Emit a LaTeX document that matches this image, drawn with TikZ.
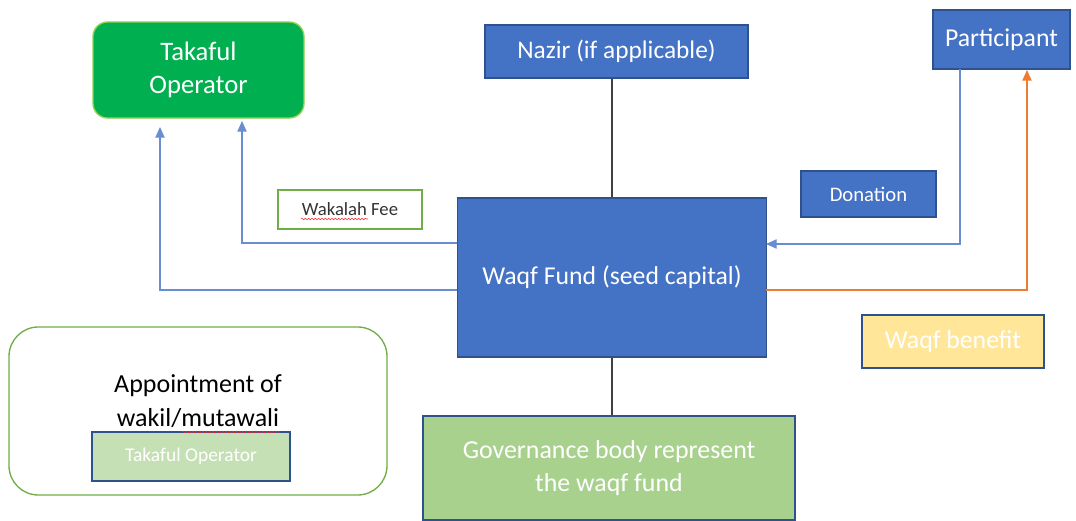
\documentclass[tikz,border=0pt]{standalone}
\usepackage{fontspec}
\setmainfont{Carlito}
\usetikzlibrary{arrows.meta,decorations.pathmorphing}
\definecolor{msblue}{HTML}{4472C4}
\definecolor{msdark}{HTML}{2F528F}
\definecolor{msgreen}{HTML}{00B050}
\definecolor{mslime}{HTML}{92D050}
\definecolor{msolive}{HTML}{70AD47}
\definecolor{mslight}{HTML}{A9D18E}
\definecolor{mspale}{HTML}{C5E0B4}
\definecolor{msyellow}{HTML}{FFE699}
\definecolor{msorange}{HTML}{ED7D31}
\tikzset{
  bluebox/.style={draw=msdark,fill=msblue,line width=1pt,text=white,align=center,inner sep=0pt},
  greenbox/.style={draw=msolive,line width=1pt,align=center,inner sep=0pt},
  flow/.style={msblue!80,line width=0.8pt,-{Triangle[width=7pt,length=8pt]}},
  link/.style={black!75,line width=0.9pt},
  squiggle/.style={red!85,line width=0.4pt,decorate,decoration={snake,amplitude=0.6pt,segment length=2.5pt}}
}
\begin{document}
\begin{tikzpicture}[x=0.75pt,y=-0.75pt]
 \useasboundingbox (0,0) rectangle (1076,521);
 % boxes
 \node[draw=mslime,fill=msgreen,line width=1pt,rounded corners=11pt,text=white,align=center,
   minimum width=158.25pt,minimum height=72pt,font=\fontsize{20}{25}\selectfont] (tko) at (198.5,70) {Takaful\\Operator};
 \node[bluebox,minimum width=197.25pt,minimum height=39.75pt,font=\fontsize{19}{23}\selectfont] (nazir) at (616.5,51.5) {Nazir (if applicable)};
 \node[bluebox,minimum width=102.75pt,minimum height=44.25pt,font=\fontsize{19.3}{23}\selectfont] (part) at (1001.5,39.5) {Participant};
 \node[bluebox,minimum width=101.25pt,minimum height=34.5pt,font=\fontsize{15.5}{18}\selectfont] (don) at (868.5,194) {Donation};
 \node[greenbox,fill=white,text=black!80,minimum width=108pt,minimum height=29.25pt,font=\fontsize{14}{17}\selectfont] (fee) at (350,209.5) {Wakalah Fee};
 \node[bluebox,minimum width=231.75pt,minimum height=119.25pt,font=\fontsize{19.3}{23}\selectfont] (fund) at (612,277.5) {Waqf Fund (seed capital)};
 \node[bluebox,fill=msyellow,minimum width=136.5pt,minimum height=39.75pt,font=\fontsize{19.3}{23}\selectfont] (benefit) at (953,341.5) {Waqf benefit};
 \node[bluebox,fill=mslight,minimum width=279pt,minimum height=78pt,font=\fontsize{19.4}{25}\selectfont] (gov) at (609,468) {Governance body represent\\the waqf fund};
 \node[greenbox,rounded corners=22pt,minimum width=283.5pt,minimum height=126pt] (appt) at (198,411) {};
 \node[align=center,font=\fontsize{19.5}{26}\selectfont] (apptxt) at (198,401) {Appointment of\\wakil/mutawali};
 \node[bluebox,fill=mspale,minimum width=148.5pt,minimum height=36.75pt,font=\fontsize{14.6}{17}\selectfont] (tks) at (191,456.5) {Takaful Operator};
 % spelling marks
 \draw[squiggle] (301,219) -- (368,219);
 \draw[squiggle] (182,432) -- (279,432);
 % bends of the connectors
 \coordinate (feeA) at (457,243);
 \coordinate (feeB) at (242,243);
 \coordinate (feeC) at (242,121);
 \coordinate (apA) at (457,290);
 \coordinate (apB) at (160,290);
 \coordinate (apC) at (160,127);
 \coordinate (donA) at (960,69);
 \coordinate (donB) at (960,244);
 \coordinate (donC) at (766,244);
 \coordinate (benA) at (766,290);
 \coordinate (benB) at (1027,290);
 \coordinate (benC) at (1027,70);
 % connectors
 \draw[link] (fund.north |- nazir.south) -- (fund.north);
 \draw[link] (fund.south) -- (fund.south |- gov.north);
 \draw[flow] (feeA) -- (feeB) -- (feeC);
 \draw[flow] (apA) -- (apB) -- (apC);
 \draw[flow] (donA) -- (donB) -- (donC);
 \draw[flow,msorange] (benA) -- (benB) -- (benC);
\end{tikzpicture}
\end{document}
